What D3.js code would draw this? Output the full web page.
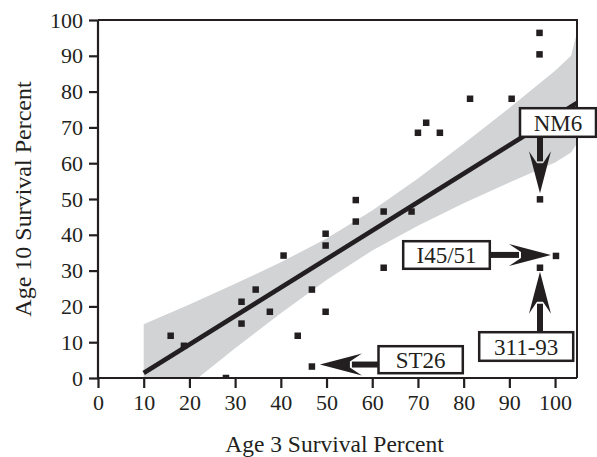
<!DOCTYPE html>
<html>
<head>
<meta charset="utf-8">
<script src="https://cdn.jsdelivr.net/npm/d3@7"></script>
<style>
  html, body { margin: 0; padding: 0; background: #ffffff; }
  svg { display: block; }
  text { font-family: "Liberation Serif", "Times New Roman", serif; fill: #231f20; }
</style>
</head>
<body>
<svg id="chart" width="597" height="457"></svg>
<script>
// ---- data ----
const age3 = [15.9, 18.8, 28.0, 31.4, 31.4, 34.5, 37.6, 40.6, 43.7, 46.8, 46.8, 49.8, 49.8, 49.8,
              56.4, 56.4, 62.5, 68.6, 62.5, 70.0, 71.8, 74.8, 81.4, 90.5, 96.6, 96.6, 96.7, 100.2, 96.7];
const age10 = [11.8, 9.0, 0.0, 21.3, 15.2, 24.7, 18.5, 34.2, 11.8, 24.7, 3.2, 40.3, 37.0, 18.5,
               49.7, 43.7, 46.5, 46.5, 30.8, 68.5, 71.3, 68.5, 78.0, 78.0, 96.4, 90.4, 49.9, 34.1, 30.8];
const fitX = [10, 104.8];
const fitY = [1.4, 76.8];
const bandX = [10, 20, 30, 40, 50, 60, 70, 80, 90, 100, 103.5, 104.8];
const bandUpper = [15.0, 20.5, 26.3, 32.3, 39.0, 46.8, 55.7, 65.4, 75.4, 85.8, 90.0, 96.5];
const bandLower = [-12.2, -1.9, 8.3, 18.1, 27.4, 35.6, 42.5, 48.8, 54.6, 60.2, 63.0, 65.5];
const xTicks = [0, 10, 20, 30, 40, 50, 60, 70, 80, 90, 100];
const yTicks = [0, 10, 20, 30, 40, 50, 60, 70, 80, 90, 100];
const calloutLabels = ["NM6", "I45/51", "311-93", "ST26"];
const calloutTargets = [26, 27, 28, 10]; // indices into the point arrays
const xTitle = "Age 3 Survival Percent";
const yTitle = "Age 10 Survival Percent";

// ---- layout ----
const ink = "#231f20";
const svg = d3.select("#chart");
const L = 98, R = 577, T = 20, B = 378;
const x = d3.scaleLinear().domain([0, 104.8]).range([L, R]);
const y = d3.scaleLinear().domain([0, 100]).range([B, T]);

svg.append("defs").append("clipPath").attr("id", "plotclip")
  .append("rect").attr("x", L).attr("y", T).attr("width", R - L).attr("height", B - T);

const plot = svg.append("g").attr("clip-path", "url(#plotclip)");

// confidence band
const bandData = bandX.map((v, i) => ({ x: v, lo: bandLower[i], hi: bandUpper[i] }));
plot.append("path")
  .datum(bandData)
  .attr("fill", "#d1d3d4")
  .attr("d", d3.area().x(d => x(d.x)).y0(d => y(d.lo)).y1(d => y(d.hi)));

// regression line
plot.append("path")
  .datum(fitX.map((v, i) => [v, fitY[i]]))
  .attr("fill", "none").attr("stroke", ink).attr("stroke-width", 4.6)
  .attr("d", d3.line().x(d => x(d[0])).y(d => y(d[1])));

// points
const sq = 6.5;
plot.selectAll("rect.pt").data(age3.map((v, i) => [v, age10[i]])).enter()
  .append("rect").attr("class", "pt")
  .attr("x", d => x(d[0]) - sq / 2).attr("y", d => y(d[1]) - sq / 2)
  .attr("width", sq).attr("height", sq).attr("fill", ink);

// frame: top and right borders
svg.append("line").attr("x1", L).attr("x2", R + 1).attr("y1", T).attr("y2", T)
  .attr("stroke", ink).attr("stroke-width", 2);
svg.append("line").attr("x1", R).attr("x2", R).attr("y1", T).attr("y2", B)
  .attr("stroke", ink).attr("stroke-width", 2);

// axes
const xAxis = d3.axisBottom(x).tickValues(xTicks).tickSize(10).tickPadding(6).tickFormat(d3.format("d"));
const yAxis = d3.axisLeft(y).tickValues(yTicks).tickSize(9).tickPadding(6).tickFormat(d3.format("d"));

const gx = svg.append("g").attr("transform", `translate(0,${B})`).call(xAxis);
const gy = svg.append("g").attr("transform", `translate(${L},0)`).call(yAxis);
[gx, gy].forEach(g => {
  g.select(".domain").attr("stroke", ink).attr("stroke-width", 2.2);
  g.selectAll(".tick line").attr("stroke", ink).attr("stroke-width", 2.2);
  g.selectAll(".tick text").attr("fill", ink)
    .style("font-family", '"Liberation Serif", "Times New Roman", serif').style("font-size", "22px");
});
gx.select(".domain").attr("d", `M${L},0H${R}`);
gy.select(".domain").attr("d", `M0,${B + 1}V${T}`);

// axis titles
svg.append("text").attr("x", (L + R) / 2 - 3).attr("y", 452).attr("text-anchor", "middle")
  .style("font-size", "23.5px").text(xTitle);
svg.append("text").attr("transform", `translate(31,${(T + B) / 2}) rotate(-90)`)
  .attr("text-anchor", "middle").style("font-size", "24px").text(yTitle);

// callouts
const boxes = [
  { x: 520, y: 108.2, w: 76, h: 28.6, dir: "down" },
  { x: 403.2, y: 241.2, w: 86.6, h: 27.6, dir: "right" },
  { x: 479.2, y: 332.2, w: 94, h: 28.6, dir: "up" },
  { x: 378.5, y: 346.2, w: 84.3, h: 27, dir: "left" }
];

function arrow(sx, sy, tx, ty) {
  const dx = tx - sx, dy = ty - sy, len = Math.hypot(dx, dy);
  const ux = dx / len, uy = dy / len, nx = -uy, ny = ux;
  const HL = 42, HW = 11, NK = 30, SW = 3;
  svg.append("line")
    .attr("x1", sx).attr("y1", sy)
    .attr("x2", tx - ux * (NK + 2)).attr("y2", ty - uy * (NK + 2))
    .attr("stroke", ink).attr("stroke-width", 2 * SW);
  const p = (a, b) => [tx - ux * a + nx * b, ty - uy * a + ny * b];
  const pts = [p(0, 0), p(HL, HW), p(NK, SW), p(NK, -SW), p(HL, -HW)];
  svg.append("path").attr("d", "M" + pts.map(q => q.join(",")).join("L") + "Z").attr("fill", ink);
}

boxes.forEach((b, i) => {
  const ti = calloutTargets[i];
  const px = x(age3[ti]), py = y(age10[ti]);
  let sx, sy, tx, ty;
  if (b.dir === "down") { sx = px; sy = b.y + b.h; tx = px; ty = py - 6; }
  if (b.dir === "right") { sx = b.x + b.w; sy = py - 1; tx = px - 5; ty = py - 1; }
  if (b.dir === "up") { sx = px; sy = b.y; tx = px; ty = py + 4; }
  if (b.dir === "left") { sx = b.x; sy = py - 2; tx = px + 8; ty = py - 2; }
  arrow(sx, sy, tx, ty);
  svg.append("rect").attr("x", b.x).attr("y", b.y).attr("width", b.w).attr("height", b.h)
    .attr("fill", "#ffffff").attr("stroke", ink).attr("stroke-width", 2.5);
  svg.append("text").attr("x", b.x + b.w / 2).attr("y", b.y + b.h / 2 + 8)
    .attr("text-anchor", "middle").style("font-size", "23px").text(calloutLabels[i]);
});
</script>
</body>
</html>
